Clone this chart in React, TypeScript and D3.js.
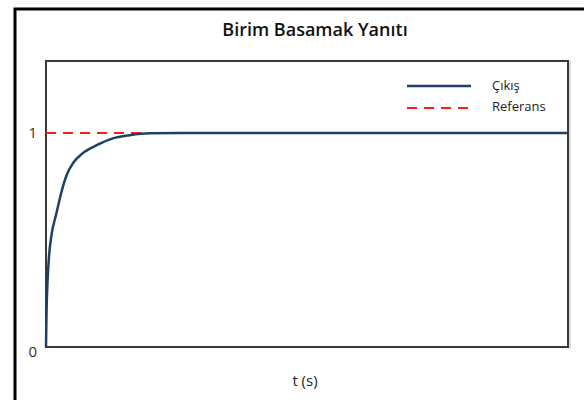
import React from "react";
import * as d3 from "d3";

const timeValues = [0, 0.01, 0.03, 0.06, 0.1, 0.2, 0.3, 0.4, 0.52, 0.7, 0.98, 1.28, 1.6, 2.0, 2.6, 3.5, 5, 6.5, 8, 10];
const outputValues = [0, 0.16, 0.31, 0.43, 0.515, 0.625, 0.728, 0.806, 0.86, 0.905, 0.944, 0.975, 0.99, 0.999, 1.0, 1.0, 1.0, 1.0, 1.0, 1.0];
const referenceValue = [1, 1];
const yTickValues = [0, 1];
const legendLabels = ["Çıkış", "Referans"];
const title = "Birim Basamak Yanıtı";
const xLabel = "t (s)";

export default function App() {
  const W = 584, H = 400;
  const left = 46, right = 568, top = 61, bottom = 347;
  const x = d3.scaleLinear().domain([0, 10]).range([left, right]);
  const y = d3.scaleLinear().domain([0, 286 / 214]).range([bottom, top]);
  const pts: [number, number][] = timeValues.map((t, i) => [t, outputValues[i]]);
  const line = d3.line<[number, number]>().x(d => x(d[0])).y(d => y(d[1])).curve(d3.curveMonotoneX);
  const font = "'Open Sans', 'Noto Sans', sans-serif";
  return (
    <svg width={W} height={H} style={{ position: "absolute", left: 0, top: 0, background: "#fff" }} fontFamily={font}>
      <rect x={15} y={9} width={W + 20} height={H + 20} fill="#fff" stroke="#000" strokeWidth={3} />
      <text x={315} y={36} textAnchor="middle" fontSize={18} fontWeight="600" fill="#111">{title}</text>
      <line x1={right + 2} y1={top} x2={right + 2} y2={bottom + 2} stroke="#bbb" strokeWidth={1} />
      <rect x={left} y={top} width={right - left} height={bottom - top} fill="none" stroke="#3a3a3a" strokeWidth={2} />
      <line x1={x(0)} x2={x(10)} y1={y(referenceValue[0])} y2={y(referenceValue[1])} stroke="#ff1a1a" strokeWidth={2} strokeDasharray="10,7" />
      <path d={line(pts) || ""} fill="none" stroke="#203f66" strokeWidth={2.5} />
      {yTickValues.map(v => (
        <text key={v} x={37} y={y(v) + 5 + (v === 0 ? 5 : 0)} textAnchor="end" fontSize={15} fill="#333">{v}</text>
      ))}
      <text x={305} y={386} textAnchor="middle" fontSize={15} fill="#222">{xLabel}</text>
      <line x1={407} x2={471} y1={86} y2={86} stroke="#203f66" strokeWidth={2.5} />
      <line x1={407} x2={471} y1={108} y2={108} stroke="#ff1a1a" strokeWidth={2} strokeDasharray="10,7" />
      <text x={492} y={90} fontSize={13} fill="#222">{legendLabels[0]}</text>
      <text x={492} y={111} fontSize={13} fill="#222">{legendLabels[1]}</text>
    </svg>
  );
}
